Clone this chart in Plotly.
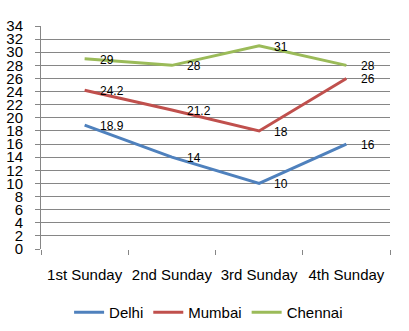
import plotly.graph_objects as go

categories = ["1st Sunday", "2nd Sunday", "3rd Sunday", "4th Sunday"]
delhi = [18.9, 14, 10, 16]
mumbai = [24.2, 21.2, 18, 26]
chennai = [29, 28, 31, 28]
series_names = ["Delhi", "Mumbai", "Chennai"]
colors = ["#4F81BD", "#C0504D", "#9BBB59"]
y_ticks = list(range(0, 35, 2))

FONT = "Liberation Sans"
fig = go.Figure()
annotations = []
for name, vals, col in zip(series_names, [delhi, mumbai, chennai], colors):
    fig.add_trace(go.Scatter(x=categories, y=vals, name=name, mode="lines",
                             line=dict(color=col, width=3)))
    for c, v in zip(categories, vals):
        annotations.append(dict(x=c, y=v, text=str(v), showarrow=False,
                                xanchor="left", yanchor="middle", xshift=13, yshift=-1,
                                font=dict(family=FONT, size=12, color="black")))

fig.update_layout(
    width=409, height=331,
    margin=dict(l=41, r=19, t=26, b=82, autoexpand=False),
    paper_bgcolor="white", plot_bgcolor="white",
    font=dict(family=FONT, color="black"),
    annotations=annotations,
    showlegend=True,
    legend=dict(orientation="h", x=0.51, xanchor="center", xref="container",
                y=1 - 296 / 331, yanchor="top", yref="container",
                font=dict(family=FONT, size=15), itemwidth=30, tracegroupgap=0),
    xaxis=dict(type="category", range=[-0.5, 3.5], showgrid=False,
               showline=False, ticks="outside", tickson="boundaries",
               ticklen=5, tickcolor="#868686", tickwidth=1, tickangle=0,
               automargin=False,
               tickfont=dict(family=FONT, size=15), ticklabelstandoff=15),
    yaxis=dict(range=[0, 34], tickvals=y_ticks, showgrid=True, gridcolor="#868686",
               gridwidth=1, showline=True, linecolor="#868686", linewidth=1,
               ticks="outside", ticklen=5, tickcolor="#868686", automargin=False,
               tickfont=dict(family=FONT, size=15), ticklabelstandoff=9,
               zeroline=False),
)
fig.write_html("out.html")
